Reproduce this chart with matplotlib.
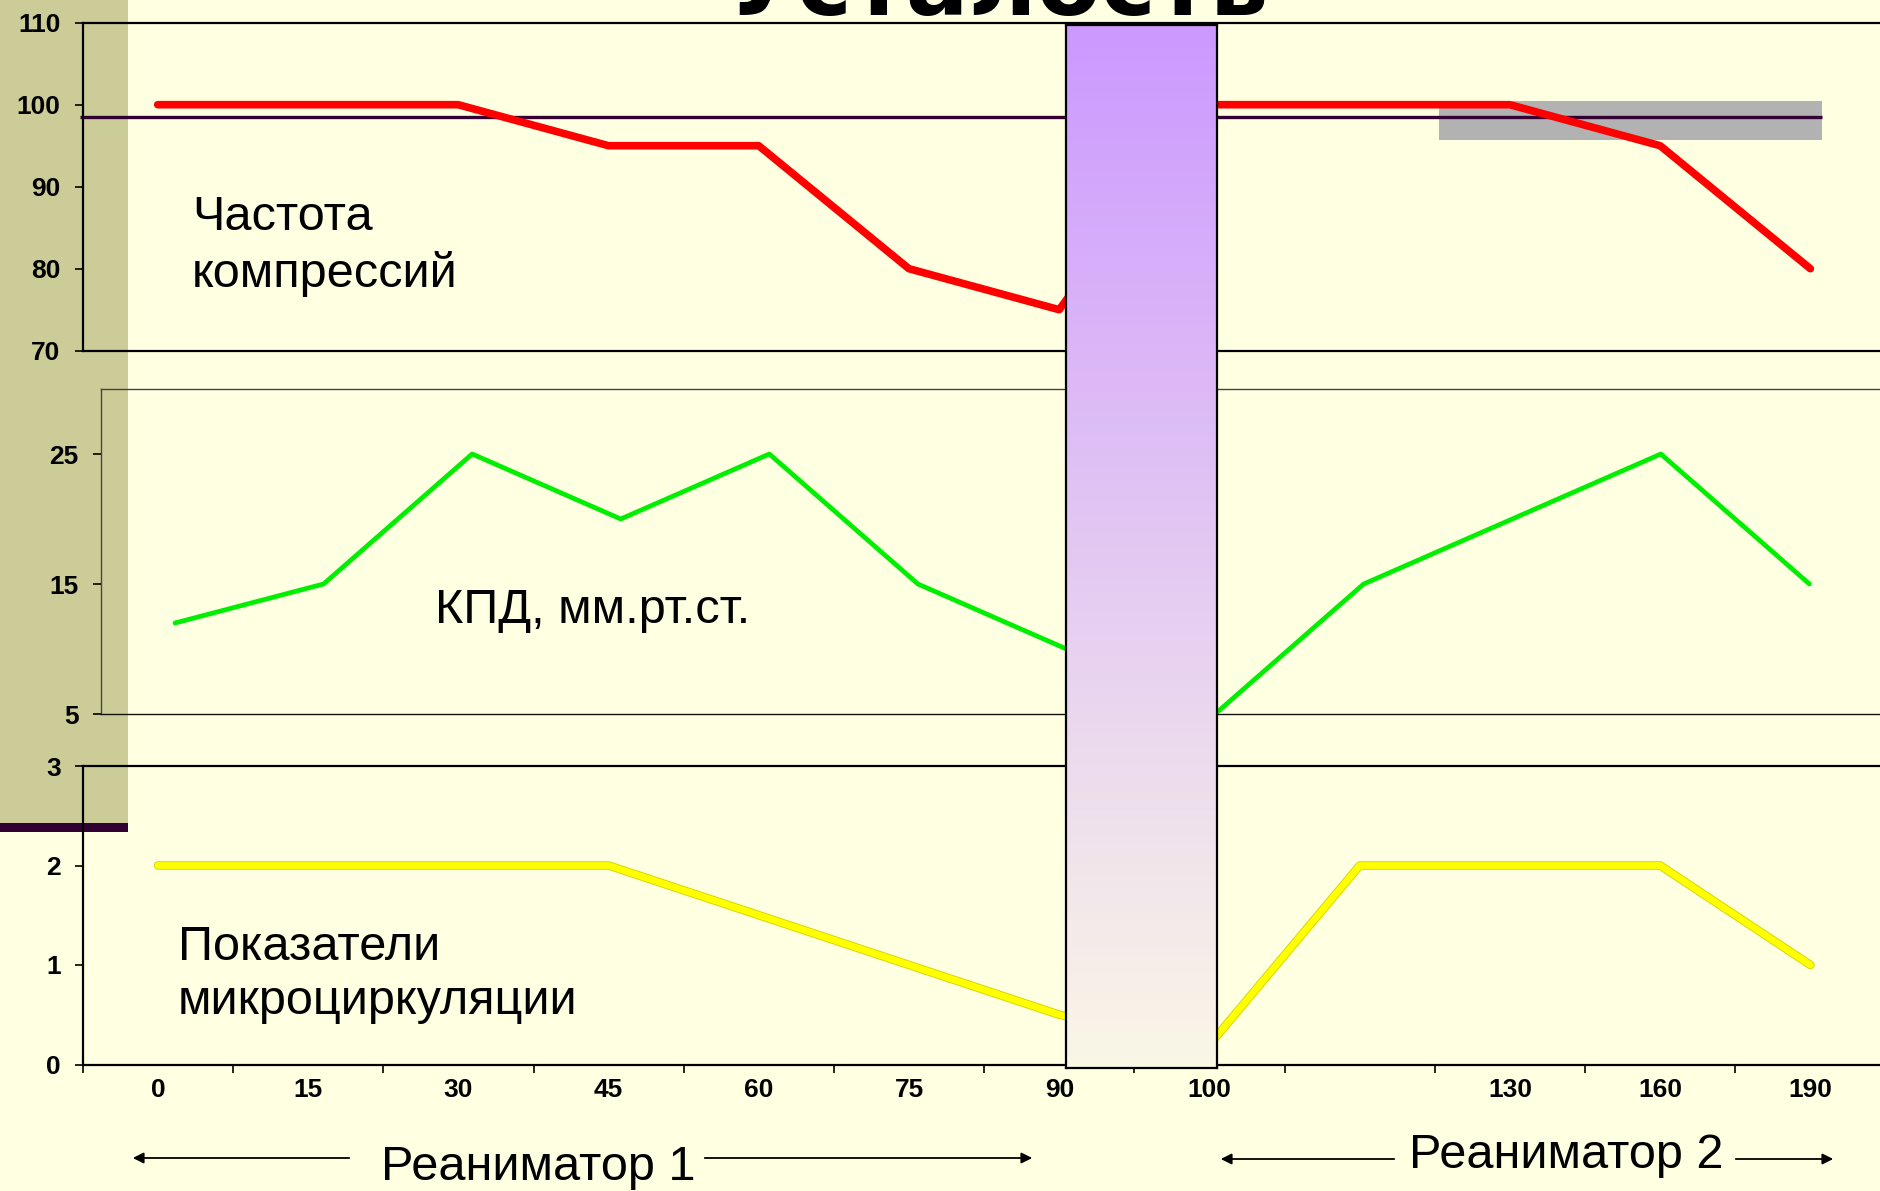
import numpy as np
import matplotlib as mpl
mpl.use('Agg')
import matplotlib.pyplot as plt
from matplotlib.patches import Rectangle, FancyArrowPatch
import matplotlib.patheffects as pe

W, H = 1880, 1191

# --- data ---
minutes = ['0', '15', '30', '45', '60', '75', '90', '100', '', '130', '160', '190']
rate = [100, 100, 100, 95, 95, 80, 75, 100, 100, 100, 95, 80]   # частота компрессий
kpd = [12, 15, 25, 20, 25, 15, 10, 5, 15, 20, 25, 15]          # КПД, мм.рт.ст.
micro = [2, 2, 2, 2, 1.5, 1, 0.5, 0.2, 2, 2, 2, 1]             # микроциркуляция

rate_norm = 98.5
bg = '#FFFFE1'
txt_font = ['Liberation Sans', 'DejaVu Sans']
tick_font = ['Liberation Sans', 'DejaVu Sans']


def rect(x0, y0, x1, y1):
    # pixel box (top-left origin) -> figure fraction
    return [x0 / W, 1 - y1 / H, (x1 - x0) / W, (y1 - y0) / H]


fig = plt.figure(figsize=(W / 100, H / 100), dpi=100, facecolor=bg)

# slide decoration on the left
fig.patches.append(Rectangle((0, 1 - 823 / H), 128 / W, 823 / H, transform=fig.transFigure,
                             facecolor='#CCCC99', edgecolor='none', zorder=-10))
fig.patches.append(Rectangle((0, 1 - 832 / H), 128 / W, 9 / H, transform=fig.transFigure,
                             facecolor='#330033', edgecolor='none', zorder=-9))

x = np.arange(len(minutes))

ax1 = fig.add_axes(rect(82.6, 22.7, 1885.5, 350.7))
ax2 = fig.add_axes(rect(100.7, 389, 1883.7, 714))
ax3 = fig.add_axes(rect(83, 766, 1885.5, 1064.5))

# top panel
ax1.add_patch(Rectangle((8.53, 95.73), 11.08 - 8.53, 100.45 - 95.73,
                        facecolor='#B2B2B2', edgecolor='none', zorder=1))
ax1.hlines(rate_norm, -0.52, 11.08, color='#330033', lw=2.4, zorder=2, clip_on=False)
ax1.plot(x, rate, color='#FF0000', lw=5.5, solid_capstyle='round', solid_joinstyle='round', zorder=3)
ax1.set_ylim(70, 110)
ax1.set_yticks([70, 80, 90, 100, 110])
ax1.set_xticks([])
for s in ('left', 'top', 'bottom'):
    ax1.spines[s].set_linewidth(1.6)

# middle panel
ax2.plot(x, kpd, color='#00EE00', lw=3.4, solid_capstyle='round', zorder=3)
ax2.set_ylim(5, 30)
ax2.set_yticks([5, 15, 25])
ax2.set_xticks([])
for s in ('left', 'top', 'bottom'):
    ax2.spines[s].set_linewidth(1.0)
    ax2.spines[s].set_color('#444444')
ax2.spines['bottom'].set_color('#111111')

# bottom panel
ax3.plot(x, micro, color='#FFFF00', lw=4.8, solid_capstyle='round', zorder=3,
         path_effects=[pe.Stroke(linewidth=6.2, foreground='#D8D800'), pe.Normal()])
ax3.set_ylim(0, 3)
ax3.set_yticks([0, 1, 2, 3])
ax3.set_xticks(x)
ax3.set_xticklabels(minutes)
ax3.set_xticks(np.arange(len(minutes) + 1) - 0.5, minor=True)
ax3.tick_params(axis='x', which='major', length=0, pad=10, labelsize=19)
ax3.tick_params(axis='x', which='minor', length=6, width=1.2, direction='out')
for s in ('left', 'top', 'bottom'):
    ax3.spines[s].set_linewidth(1.6)

for ax in (ax1, ax2, ax3):
    ax.set_facecolor('none')
    ax.set_xlim(-0.5, len(minutes) - 0.5)
    ax.spines['right'].set_visible(False)
    ax.tick_params(axis='y', direction='out', length=6, width=1.2, pad=10, labelsize=19)
    for lab in ax.get_yticklabels() + ax.get_xticklabels():
        lab.set_fontweight('bold')
        lab.set_family(tick_font)

# fatigue bar between the two rescuers
axb = fig.add_axes(rect(1066, 25, 1217, 1068), zorder=10)
grad = np.linspace(0, 1, 256)[:, None]
top_c = np.array([204, 153, 255]) / 255
bot_c = np.array([250, 247, 230]) / 255
img = top_c[None, None, :] * (1 - grad[:, :, None]) + bot_c[None, None, :] * grad[:, :, None]
axb.imshow(img, aspect='auto', extent=(0, 1, 0, 1))
axb.set_xticks([])
axb.set_yticks([])
for s in axb.spines.values():
    s.set_linewidth(1.6)
    s.set_color('black')

# title, cut by the top edge of the slide
fig.text(997 / W, 1 - 15 / H, 'Усталость', fontsize=67, fontweight='bold',
         ha='center', va='baseline', family='DejaVu Sans')

# labels inside panels
labels = [
    ('Частота', 192, 230), ('компрессий', 192, 287),
    ('КПД, мм.рт.ст.', 435, 623),
    ('Показатели', 178, 960), ('микроциркуляции', 178, 1014),
]
for s, px, py in labels:
    fig.text(px / W, 1 - py / H, s, fontsize=35, ha='left', va='baseline', family=txt_font)

# rescuer arrows
fig.text(538 / W, 1 - 1180 / H, 'Реаниматор 1', fontsize=35, ha='center', va='baseline', family=txt_font)
fig.text(1566 / W, 1 - 1168 / H, 'Реаниматор 2', fontsize=35, ha='center', va='baseline', family=txt_font)
arrows = [(352, 130, 1158), (702, 1035, 1158), (1397, 1218, 1159), (1733, 1836, 1159)]
for x0, x1, ya in arrows:
    fig.add_artist(FancyArrowPatch(
        (x0 / W, 1 - ya / H), (x1 / W, 1 - ya / H), transform=fig.transFigure,
        arrowstyle='-|>', mutation_scale=16, lw=1.3, color='black'))

fig.savefig('out.png', dpi=100, facecolor=bg)
